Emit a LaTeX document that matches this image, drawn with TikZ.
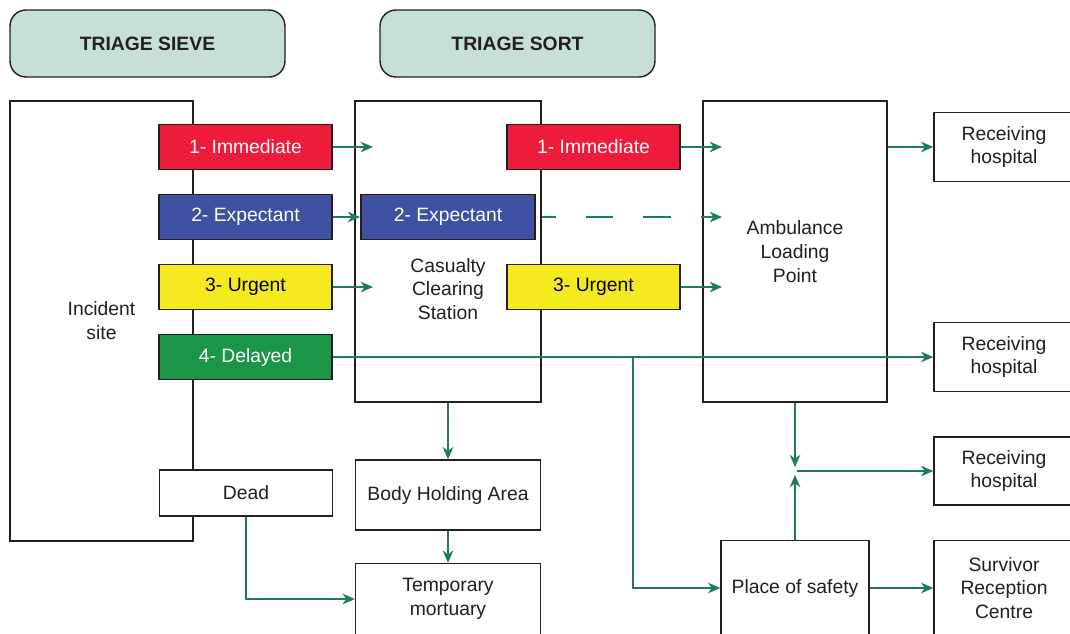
\documentclass[tikz,border=0pt]{standalone}
\usepackage{fontspec}
\setmainfont{Liberation Sans}
\usetikzlibrary{arrows.meta}
\definecolor{ink}{HTML}{231F20}
\definecolor{headfill}{HTML}{C7E0D6}
\definecolor{immred}{HTML}{EE1B3B}
\definecolor{expblue}{HTML}{3E51A3}
\definecolor{urgyellow}{HTML}{F4EA1F}
\definecolor{delgreen}{HTML}{1B9548}
\definecolor{flow}{HTML}{1E7C5E}
\begin{document}
\begin{tikzpicture}[x=0.02cm,y=-0.02cm,
  font=\fontsize{11}{13.6}\selectfont,
  every node/.style={text=ink, align=center, inner sep=0pt},
  header/.style={draw=ink, line width=0.8pt, fill=headfill, rounded corners=0.32cm,
    minimum width=5.5cm, minimum height=1.34cm, font=\fontsize{11}{13.6}\selectfont\bfseries},
  area/.style={draw=ink, line width=0.9pt, fill=white},
  cat/.style={draw=ink, line width=1.1pt, minimum width=3.46cm, minimum height=0.9cm},
  plain/.style={draw=ink, line width=0.8pt, fill=white},
  flowline/.style={draw=flow, line width=0.95pt},
  arr/.style={flowline, -{Stealth[length=7pt,width=6pt,inset=2.2pt]}}]

\clip (0,0) rectangle (1070,633);
\fill[white] (0,0) rectangle (1070,633);

% stage headers
\node[header] (sieve) at (147.5,43.5) {TRIAGE SIEVE};
\node[header] (sort)  at (517.5,43.5) {TRIAGE SORT};

% main areas
\node[area, minimum width=3.66cm, minimum height=8.8cm] (incident) at (101.5,321) {Incident\\site};
\node[area, minimum width=3.72cm, minimum height=6.02cm,
  label={[yshift=-0.75cm, align=center, text=ink]center:Casualty\\Clearing\\Station}] (ccs) at (448,251.5) {};
\node[area, minimum width=3.68cm, minimum height=6.02cm] (alp) at (795,251.5) {Ambulance\\Loading\\Point};

% triage sieve categories
\node[cat, fill=immred, text=white]    (imm1) at (245.5,147) {1- Immediate};
\node[cat, fill=expblue, text=white]   (exp1) at (245.5,217) {2- Expectant};
\node[cat, fill=urgyellow, text=black] (urg1) at (245.5,287) {3- Urgent};
\node[cat, fill=delgreen, text=white]  (del1) at (245.5,357) {4- Delayed};
\node[plain, minimum width=3.46cm, minimum height=0.92cm] (dead) at (246,493) {Dead};

% triage sort categories
\node[cat, fill=expblue, text=white, minimum width=3.48cm] (exp2) at (448,217) {2- Expectant};
\node[cat, fill=immred, text=white]    (imm2) at (593.5,147) {1- Immediate};
\node[cat, fill=urgyellow, text=black] (urg2) at (593.5,287) {3- Urgent};

% destinations
\node[plain, minimum width=2.8cm, minimum height=1.38cm] (rh1) at (1004,147)   {Receiving\\hospital};
\node[plain, minimum width=2.8cm, minimum height=1.38cm] (rh2) at (1004,357)   {Receiving\\hospital};
\node[plain, minimum width=2.8cm, minimum height=1.36cm] (rh3) at (1004,471)   {Receiving\\hospital};
\node[plain, minimum width=2.8cm, minimum height=1.9cm]  (src) at (1004,588)   {Survivor\\Reception\\Centre};
\node[plain, minimum width=3.7cm, minimum height=1.4cm]  (bha) at (448,495)    {Body Holding Area};
\node[plain, minimum width=3.7cm, minimum height=1.42cm] (tm)  at (448,599)    {Temporary\\mortuary};
\node[plain, minimum width=2.96cm, minimum height=1.9cm] (pos) at (795,588)    {Place of safety};

% connector end points
\coordinate (ccsin) at (373,0);
\coordinate (alpin) at (722,0);
\coordinate (split) at (633,357);
\coordinate (jn)    at (795,471);

% sieve to sort
\draw[arr] (imm1.east) -- (imm1.east -| ccsin);
\draw[arr] (exp1.east) -- (exp2.west);
\draw[arr] (urg1.east) -- (urg1.east -| ccsin);
\draw[arr] (del1.east) -- (del1.east -| rh2.west);
\draw[arr] (split) |- (pos.west);

% sort to ambulance loading
\draw[arr] (imm2.east) -- (imm2.east -| alpin);
\draw[arr, dash pattern=on 15.9pt off 17pt, dash phase=8pt] (exp2.east -| ccs.east) -- (exp2.east -| alpin);
\draw[arr] (urg2.east) -- (urg2.east -| alpin);

% onward movement
\draw[arr] (rh1.west -| alp.east) -- (rh1.west);
\draw[arr, shorten >=2.2pt] (alp.south) -- (jn);
\draw[arr, shorten >=2.2pt] (pos.north) -- (jn);
\draw[arr, shorten <=1pt] (jn) -- (jn -| rh3.west);
\draw[arr] (pos.east) -- (pos.east -| src.west);
\draw[arr] (ccs.south) -- (bha.north);
\draw[arr] (bha.south) -- (tm.north);
\draw[arr] (dead.south) |- (tm.west);
\end{tikzpicture}
\end{document}
